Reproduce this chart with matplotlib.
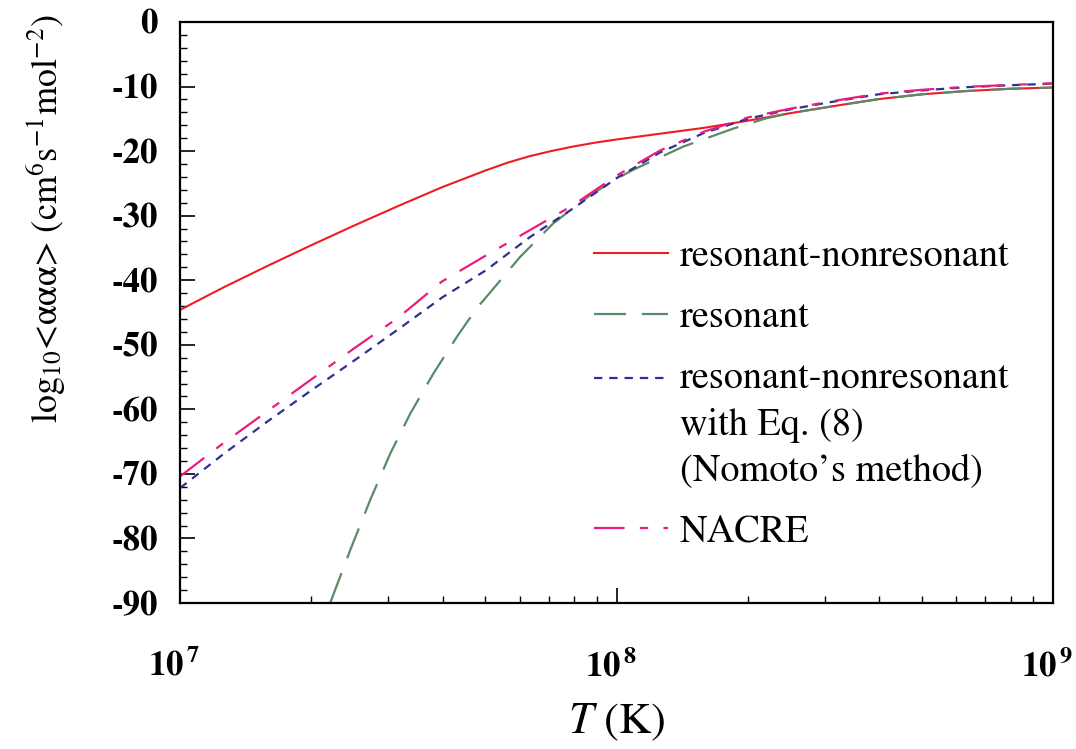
import numpy as np
import matplotlib
matplotlib.use('Agg')
import matplotlib.pyplot as plt
import matplotlib.transforms as mtransforms
from matplotlib.ticker import FixedLocator, FuncFormatter, LogLocator, MultipleLocator, NullFormatter

plt.rcParams['font.family'] = ['STIXGeneral', 'DejaVu Sans']
plt.rcParams['mathtext.fontset'] = 'stix'
plt.rcParams['axes.unicode_minus'] = False
plt.rcParams['lines.scale_dashes'] = False

# ---- data (log10 T, log10 rate) ----
logT_rn = [7.0, 7.1, 7.2, 7.3, 7.4, 7.5, 7.6, 7.65, 7.7, 7.75, 7.8, 7.85, 7.9, 7.95, 8.0,
           8.1, 8.2, 8.3, 8.4, 8.5, 8.6, 8.7, 8.8, 8.9, 9.0]
rate_rn = [-44.6, -41.1, -37.8, -34.6, -31.5, -28.5, -25.6, -24.3, -23.0, -21.8, -20.8,
           -20.0, -19.3, -18.7, -18.2, -17.3, -16.4, -15.3, -14.1, -13.0, -11.95, -11.2,
           -10.7, -10.35, -10.15]

logT_res = [7.344, 7.39, 7.436, 7.482, 7.528, 7.581, 7.635, 7.68, 7.703, 7.779, 7.855,
            7.94, 8.008, 8.038, 8.153, 8.268, 8.344, 8.4, 8.5, 8.6, 8.7, 8.8, 8.9, 9.0]
rate_res = [-90.0, -81.8, -74.0, -66.8, -60.6, -54.4, -48.7, -44.3, -42.5, -36.4, -31.2,
            -26.8, -24.0, -22.9, -19.3, -16.5, -14.9, -14.1, -13.0, -11.95, -11.2, -10.7,
            -10.35, -10.15]

logT_nom = [7.0, 7.1, 7.2, 7.3, 7.4, 7.5, 7.6, 7.7, 7.8, 7.9, 8.0, 8.1, 8.2, 8.3, 8.4,
            8.5, 8.6, 8.7, 8.8, 8.9, 9.0]
rate_nom = [-72.2, -66.9, -61.9, -57.1, -52.4, -47.6, -42.7, -38.5, -33.4, -28.9, -24.2,
            -20.2, -17.2, -15.0, -13.5, -12.3, -11.2, -10.6, -10.1, -9.8, -9.55]

logT_nacre = [7.0, 7.1, 7.2, 7.3, 7.4, 7.5, 7.6, 7.7, 7.8, 7.9, 8.0, 8.1, 8.2, 8.3, 8.4,
              8.5, 8.6, 8.7, 8.8, 8.9, 9.0]
rate_nacre = [-70.4, -65.2, -60.3, -55.4, -50.5, -45.8, -40.2, -36.2, -32.3, -28.4, -23.8,
              -19.9, -17.0, -14.8, -13.4, -12.2, -11.1, -10.5, -10.05, -9.75, -9.5]

labels = ['resonant-nonresonant', 'resonant',
          'resonant-nonresonant\nwith Eq. (8)\n(Nomoto\u2019s method)', 'NACRE']
x_major = [1e7, 1e8, 1e9]
y_major = [0, -10, -20, -30, -40, -50, -60, -70, -80, -90]

fig = plt.figure(figsize=(10.76, 7.49), dpi=100)
ax = fig.add_axes([180/1076, 146/749, 873/1076, 581/749])

ax.plot(10**np.array(logT_rn), rate_rn, color='#ee1c24', lw=1.5, label=labels[0])
ax.plot(10**np.array(logT_res), rate_res, color='#5b8a68', lw=1.6,
        ls=(0, (23, 11.5)), label=labels[1])
ax.plot(10**np.array(logT_nom), rate_nom, color='#2e3192', lw=1.6,
        ls=(0, (6, 5)), label=labels[2])
ax.plot(10**np.array(logT_nacre), rate_nacre, color='#ec1c7f', lw=1.6,
        ls=(0, (22, 11, 6, 11)), label=labels[3])

ax.set_xscale('log')
ax.set_xlim(1e7, 1e9)
ax.set_ylim(-90, 0)

ax.xaxis.set_major_locator(FixedLocator(x_major))
ax.xaxis.set_minor_locator(LogLocator(base=10, subs=np.arange(2, 10)))
ax.xaxis.set_minor_formatter(NullFormatter())
ax.xaxis.set_major_formatter(FuncFormatter(
    lambda v, p: r'$\mathbf{10}^{\,\mathbf{%d}}$' % int(round(np.log10(v)))))
ax.yaxis.set_major_locator(FixedLocator(y_major))
ax.yaxis.set_minor_locator(MultipleLocator(2))
ax.yaxis.set_major_formatter(FuncFormatter(lambda v, p: '%d' % v))

ax.tick_params(which='both', direction='in', top=False, right=False)
ax.tick_params(which='major', length=11, width=1.2)
ax.tick_params(which='minor', length=5, width=1.0)
ax.tick_params(axis='y', which='major', pad=16, labelsize=25)
ax.tick_params(axis='x', which='major', pad=33, labelsize=25)
for t in ax.get_yticklabels() + ax.get_xticklabels():
    t.set_fontweight('bold')
for s in ax.spines.values():
    s.set_linewidth(1.6)

ax.set_ylabel(r'$\mathrm{log}_{10}$<ααα> (cm$^{6}$s$^{-1}$mol$^{-2}$)', fontsize=26)
ax.yaxis.set_label_coords(-0.13, 0.662)
ax.set_xlabel(r'$T$ (K)', fontsize=32)
ax.xaxis.set_label_coords(0.5, -0.17)
ax.xaxis.label.set_va('top')

leg = ax.legend(loc='upper left', bbox_to_anchor=(0.474, 0.626), frameon=False,
                fontsize=27.5, handlelength=1.95, handletextpad=0.3, labelspacing=0.69,
                borderpad=0, borderaxespad=0)
leg.get_texts()[2].set_linespacing(1.42)
ln = leg.get_lines()[2]
ln.set_ydata(np.asarray(ln.get_ydata()) + 33.8)

shift = mtransforms.ScaledTranslation(-6/100, 0, fig.dpi_scale_trans)
for tk in ax.xaxis.get_major_ticks():
    tk.label1.set_transform(tk.label1.get_transform() + shift)

fig.savefig('out.png', dpi=100)
